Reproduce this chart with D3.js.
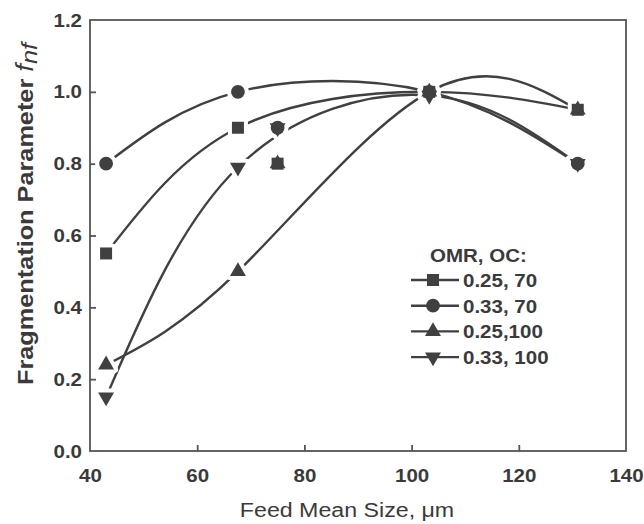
<!DOCTYPE html>
<html>
<head>
<meta charset="utf-8">
<script src="https://cdn.jsdelivr.net/npm/d3@7"></script>
<style>
  html, body { margin: 0; padding: 0; background: #fff; }
  svg { display: block; }
  text { font-family: "Liberation Sans", Arial, sans-serif; fill: #3a3a3a; }
</style>
</head>
<body>
<svg id="chart" width="644" height="524"></svg>
<script>
// ---- data ----
const sizes = [43, 67.6, 75, 103.3, 131];           // feed mean size, µm
const seriesNames = ["0.25, 70", "0.33, 70", "0.25,100", "0.33, 100"];
const seriesSymbols = ["square", "circle", "triangle", "triangleDown"];
const valsSquare   = [0.55, 0.90, 0.80, 1.00, 0.95];
const valsCircle   = [0.80, 1.00, 0.90, 1.00, 0.80];
const valsTriangle = [0.24, 0.50, 0.80, 1.00, 0.95];
const valsTriDown  = [0.15, 0.79, 0.90, 0.99, 0.80];
// which points each fitted curve passes through (indices into sizes)
const fitSquare   = [0, 1, 3, 4];
const fitCircle   = [0, 1, 3, 4];
const fitTriangle = [0, 1, 3, 4];
const fitTriDown  = [0, 1, 3, 4];
const xTicks = [40, 60, 80, 100, 120, 140];
const yTicks = [0.0, 0.2, 0.4, 0.6, 0.8, 1.0, 1.2];
const legendTitle = "OMR, OC:";

const series = [
  { name: seriesNames[0], sym: seriesSymbols[0], vals: valsSquare, fit: fitSquare },
  { name: seriesNames[1], sym: seriesSymbols[1], vals: valsCircle, fit: fitCircle },
  { name: seriesNames[2], sym: seriesSymbols[2], vals: valsTriangle, fit: fitTriangle },
  { name: seriesNames[3], sym: seriesSymbols[3], vals: valsTriDown, fit: fitTriDown }
];

// ---- layout ----
const L = 90, R = 626, T = 20, B = 451;
const ink = "#404040";
const sx = 1.08; // horizontal stretch of the lettering
const svg = d3.select("#chart");
const x = d3.scaleLinear().domain([40, 140]).range([L, R]);
const y = d3.scaleLinear().domain([0, 1.2]).range([B, T]);

// frame
svg.append("rect").attr("x", L).attr("y", T).attr("width", R - L).attr("height", B - T)
  .attr("fill", "none").attr("stroke", "#555").attr("stroke-width", 1.8);

// axes (inward ticks)
const xAxis = svg.append("g").attr("transform", `translate(0,${B})`)
  .call(d3.axisBottom(x).tickValues(xTicks).tickSizeInner(-6).tickSizeOuter(0).tickPadding(18)
    .tickFormat(d3.format("d")));
const yAxis = svg.append("g").attr("transform", `translate(${L},0)`)
  .call(d3.axisLeft(y).tickValues(yTicks).tickSizeInner(-6).tickSizeOuter(0).tickPadding(0)
    .tickFormat(d3.format(".1f")));
[xAxis, yAxis].forEach(g => {
  g.select(".domain").remove();
  g.selectAll(".tick line").attr("stroke", "#555").attr("stroke-width", 1.8);
  g.selectAll(".tick text").attr("font-size", 19).attr("font-weight", "bold")
    .attr("fill", "#3a3a3a").style("font-family", "'Liberation Sans', Arial, sans-serif");
});
xAxis.selectAll(".tick text").attr("transform", `scale(${sx},1)`);
yAxis.selectAll(".tick text").attr("x", -8 / sx).attr("transform", `scale(${sx},1)`);
xAxis.selectAll(".tick").filter(d => d === 40 || d === 140).select("line").remove();
yAxis.selectAll(".tick").filter(d => d === 0 || d === 1.2).select("line").remove();

// axis titles
svg.append("text").attr("transform", `translate(347,517) scale(1.16,1)`)
  .attr("text-anchor", "middle").attr("font-size", 20).text("Feed Mean Size, \u03bcm");
const yt = svg.append("text").attr("transform", `translate(33,214) rotate(-90) scale(1.15,1)`)
  .attr("text-anchor", "middle").attr("font-size", 22).attr("font-weight", "bold");
yt.append("tspan").text("Fragmentation Parameter ");
yt.append("tspan").attr("font-style", "italic").attr("font-weight", "normal").attr("font-size", 24).text("f");
yt.append("tspan").attr("font-style", "italic").attr("font-weight", "normal").attr("font-size", 22)
  .attr("dy", 4).text("nf");

// symbols
function symPath(sym) {
  if (sym === "square") return d3.symbol().type(d3.symbolSquare).size(144)();
  if (sym === "circle") return d3.symbol().type(d3.symbolCircle).size(150)();
  return d3.symbol().type(d3.symbolTriangle).size(110)();
}
function symTransform(sym, cx, cy) {
  return sym === "triangleDown" ? `translate(${cx},${cy}) rotate(180)` : `translate(${cx},${cy})`;
}

// curves
const line = d3.line().x(d => x(d[0])).y(d => y(d[1])).curve(d3.curveNatural);
const curves = svg.append("g");
series.forEach(s => {
  const pts = s.fit.map(i => [sizes[i], s.vals[i]]);
  curves.append("path").attr("d", line(pts)).attr("fill", "none")
    .attr("stroke", ink).attr("stroke-width", 2.4);
});

// marker halos then markers
const halos = svg.append("g"), marks = svg.append("g");
series.forEach(s => {
  s.vals.forEach((v, i) => {
    halos.append("path").attr("d", symPath(s.sym))
      .attr("transform", symTransform(s.sym, x(sizes[i]), y(v)))
      .attr("fill", "#fff").attr("stroke", "#fff").attr("stroke-width", 8)
      .attr("stroke-linejoin", "round");
  });
});
series.forEach(s => {
  s.vals.forEach((v, i) => {
    marks.append("path").attr("d", symPath(s.sym))
      .attr("transform", symTransform(s.sym, x(sizes[i]), y(v)))
      .attr("fill", ink);
  });
});

// legend
const lg = svg.append("g");
lg.append("text").attr("transform", `translate(430,262) scale(${sx},1)`)
  .attr("font-size", 19).attr("font-weight", "bold").text(legendTitle);
series.forEach((s, i) => {
  const cy = 280 + i * 25.7;
  lg.append("line").attr("x1", 411).attr("x2", 459).attr("y1", cy).attr("y2", cy)
    .attr("stroke", ink).attr("stroke-width", 2.4);
  lg.append("path").attr("d", symPath(s.sym)).attr("transform", symTransform(s.sym, 433, cy))
    .attr("fill", ink);
  lg.append("text").attr("transform", `translate(463,${cy + 7}) scale(${sx},1)`)
    .attr("font-size", 19).attr("font-weight", "bold").text(s.name);
});
</script>
</body>
</html>
